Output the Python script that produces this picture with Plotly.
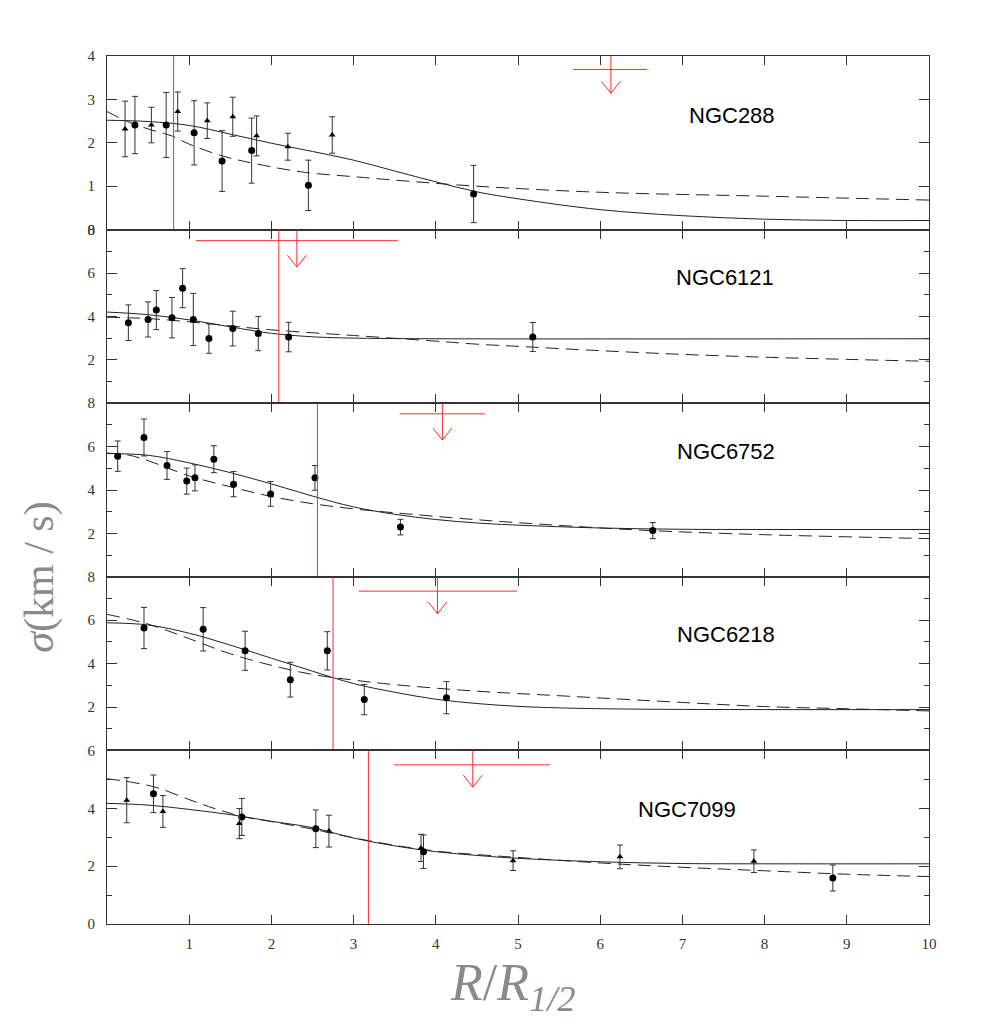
import plotly.graph_objects as go
from plotly.subplots import make_subplots

# panel names / y ranges
names = ["NGC288", "NGC6121", "NGC6752", "NGC6218", "NGC7099"]
y_top = [4, 8, 8, 8, 6]

# ---- NGC288 ----
n288_circ_x = [0.34, 0.72, 1.06, 1.40, 1.76, 2.45, 4.46]
n288_circ_y = [2.41, 2.41, 2.23, 1.58, 1.82, 1.02, 0.82]
n288_circ_e = [0.66, 0.75, 0.74, 0.70, 0.75, 0.58, 0.66]
n288_tri_x = [0.22, 0.54, 0.86, 1.22, 1.53, 1.82, 2.20, 2.74]
n288_tri_y = [2.32, 2.41, 2.72, 2.51, 2.60, 2.16, 1.91, 2.18]
n288_tri_e = [0.64, 0.41, 0.45, 0.41, 0.45, 0.46, 0.31, 0.42]
n288_fit_x = [0, 0.5, 1, 1.5, 2, 2.5, 3, 3.5, 4, 4.5, 5, 6, 7, 8, 9, 10]
n288_fit_y = [2.52, 2.49, 2.40, 2.20, 1.99, 1.80, 1.60, 1.35, 1.10, 0.87, 0.71, 0.46, 0.32, 0.24, 0.21, 0.21]
n288_dash_x = [0, 0.25, 0.5, 0.8, 1.0, 1.4, 1.8, 2.4, 3.0, 3.5, 4.5, 6, 8, 10]
n288_dash_y = [2.72, 2.49, 2.32, 2.15, 1.97, 1.70, 1.52, 1.32, 1.22, 1.14, 1.00, 0.86, 0.77, 0.68]
n288_rh = 0.81
n288_lim = [6.13, 3.69, 5.67, 6.57, 3.14]   # x, bar y, bar from, bar to, arrow tip

# ---- NGC6121 ----
n6121_circ_x = [0.26, 0.50, 0.60, 0.79, 0.92, 1.05, 1.24, 1.53, 1.84, 2.21, 5.18]
n6121_circ_y = [3.71, 3.86, 4.29, 3.94, 5.30, 3.86, 2.98, 3.44, 3.21, 3.05, 3.05]
n6121_circ_e = [0.82, 0.81, 0.90, 0.93, 0.90, 1.20, 0.68, 0.80, 0.79, 0.68, 0.67]
n6121_fit_x = [0, 0.5, 1.0, 1.5, 2.0, 2.5, 3, 4, 10]
n6121_fit_y = [4.20, 4.08, 3.84, 3.52, 3.22, 3.06, 3.00, 2.97, 2.97]
n6121_dash_x = [0, 0.5, 1.0, 1.5, 2.0, 3.0, 4.0, 4.5, 5, 6, 7, 8, 9, 10]
n6121_dash_y = [3.96, 3.90, 3.75, 3.56, 3.38, 3.12, 2.86, 2.72, 2.62, 2.42, 2.25, 2.12, 2.02, 1.93]
n6121_rh = 2.09
n6121_lim = [2.31, 7.49, 1.08, 3.54, 6.27]

# ---- NGC6752 ----
n6752_circ_x = [0.13, 0.45, 0.73, 0.97, 1.07, 1.30, 1.54, 1.99, 2.53, 3.57, 6.64]
n6752_circ_y = [5.56, 6.42, 5.13, 4.41, 4.56, 5.42, 4.27, 3.82, 4.56, 2.29, 2.13]
n6752_circ_e = [0.70, 0.85, 0.64, 0.60, 0.60, 0.62, 0.58, 0.57, 0.57, 0.36, 0.37]
n6752_fit_x = [0, 0.5, 1.0, 1.5, 2.0, 2.5, 3.0, 3.5, 4.0, 4.5, 5, 6, 7, 8, 10]
n6752_fit_y = [5.68, 5.60, 5.25, 4.80, 4.28, 3.72, 3.22, 2.88, 2.64, 2.48, 2.38, 2.25, 2.19, 2.18, 2.18]
n6752_dash_x = [0, 0.25, 0.5, 1.0, 1.5, 2.0, 2.5, 3.0, 3.5, 4.5, 5.5, 6.5, 8, 10]
n6752_dash_y = [5.70, 5.62, 5.35, 4.65, 4.15, 3.70, 3.37, 3.13, 2.95, 2.63, 2.37, 2.15, 1.94, 1.76]
n6752_rh = 2.56
n6752_lim = [4.08, 7.51, 3.56, 4.60, 6.30]

# ---- NGC6218 ----
n6218_circ_x = [0.45, 1.17, 1.68, 2.23, 2.68, 3.13, 4.13]
n6218_circ_y = [5.64, 5.58, 4.59, 3.26, 4.59, 2.34, 2.43]
n6218_circ_e = [0.95, 1.00, 0.90, 0.80, 0.88, 0.70, 0.74]
n6218_fit_x = [0, 0.5, 1.0, 1.5, 2.0, 2.5, 3.0, 3.5, 4.0, 4.5, 5, 5.5, 6.5, 10]
n6218_fit_y = [5.88, 5.78, 5.40, 4.85, 4.25, 3.65, 3.08, 2.68, 2.36, 2.16, 2.03, 1.96, 1.90, 1.88]
n6218_dash_x = [0, 0.5, 1.0, 1.5, 2.0, 2.5, 3.0, 3.5, 4.5, 5.5, 7, 8, 9, 10]
n6218_dash_y = [6.27, 5.82, 5.15, 4.45, 3.92, 3.50, 3.24, 3.03, 2.73, 2.52, 2.21, 2.02, 1.92, 1.82]
n6218_rh = 2.75
n6218_lim = [4.02, 7.34, 3.06, 4.99, 6.30]

# ---- NGC7099 ----
n7099_circ_x = [0.565, 1.64, 2.54, 3.85, 8.83]
n7099_circ_y = [4.50, 3.70, 3.29, 2.50, 1.59]
n7099_circ_e = [0.65, 0.64, 0.65, 0.58, 0.45]
n7099_tri_x = [0.24, 0.68, 1.61, 2.70, 3.82, 4.94, 6.24, 7.87]
n7099_tri_y = [4.28, 3.89, 3.47, 3.21, 2.63, 2.19, 2.32, 2.17]
n7099_tri_e = [0.78, 0.55, 0.52, 0.55, 0.47, 0.34, 0.41, 0.39]
n7099_fit_x = [0, 0.5, 1.0, 1.5, 2.0, 2.5, 3.0, 3.5, 4.0, 4.5, 5, 6, 7, 8, 10]
n7099_fit_y = [4.17, 4.11, 3.96, 3.78, 3.55, 3.33, 2.97, 2.70, 2.50, 2.37, 2.27, 2.15, 2.09, 2.08, 2.08]
n7099_dash_x = [0, 0.3, 0.6, 1.0, 1.3, 1.64, 2.0, 2.5, 3.0, 3.5, 4.0, 4.5, 5, 6, 7, 8, 9, 10]
n7099_dash_y = [5.02, 4.90, 4.72, 4.30, 4.00, 3.72, 3.54, 3.28, 2.98, 2.72, 2.52, 2.40, 2.30, 2.11, 1.96, 1.84, 1.72, 1.64]
n7099_rh = 3.18
n7099_lim = [4.45, 5.50, 3.49, 5.39, 4.73]

panels = [
    dict(circ=(n288_circ_x, n288_circ_y, n288_circ_e), tri=(n288_tri_x, n288_tri_y, n288_tri_e),
         fit=(n288_fit_x, n288_fit_y), dash=(n288_dash_x, n288_dash_y), rh=n288_rh, lim=n288_lim,
         lab=(7.6, 2.62)),
    dict(circ=(n6121_circ_x, n6121_circ_y, n6121_circ_e), tri=None,
         fit=(n6121_fit_x, n6121_fit_y), dash=(n6121_dash_x, n6121_dash_y), rh=n6121_rh, lim=n6121_lim,
         lab=(7.52, 5.77)),
    dict(circ=(n6752_circ_x, n6752_circ_y, n6752_circ_e), tri=None,
         fit=(n6752_fit_x, n6752_fit_y), dash=(n6752_dash_x, n6752_dash_y), rh=n6752_rh, lim=n6752_lim,
         lab=(7.53, 5.79)),
    dict(circ=(n6218_circ_x, n6218_circ_y, n6218_circ_e), tri=None,
         fit=(n6218_fit_x, n6218_fit_y), dash=(n6218_dash_x, n6218_dash_y), rh=n6218_rh, lim=n6218_lim,
         lab=(7.53, 5.33)),
    dict(circ=(n7099_circ_x, n7099_circ_y, n7099_circ_e), tri=(n7099_tri_x, n7099_tri_y, n7099_tri_e),
         fit=(n7099_fit_x, n7099_fit_y), dash=(n7099_dash_x, n7099_dash_y), rh=n7099_rh, lim=n7099_lim,
         lab=(7.06, 3.95)),
]

RED = "#ff2a2a"
INK = "#222222"
PANEL_PX = 173.6
X_PX = 82.2

fig = make_subplots(rows=5, cols=1, shared_xaxes=True, vertical_spacing=0)

for i, p in enumerate(panels):
    row = i + 1
    ymax = y_top[i]
    # model curves
    fig.add_trace(go.Scatter(x=p["fit"][0], y=p["fit"][1], mode="lines", line_shape="spline",
                             line=dict(color=INK, width=1)), row=row, col=1)
    fig.add_trace(go.Scatter(x=p["dash"][0], y=p["dash"][1], mode="lines", line_shape="spline",
                             line=dict(color=INK, width=1, dash="13px,7px")), row=row, col=1)
    # data points
    for key, sym, size in (("circ", "circle", 7), ("tri", "triangle-up", 6)):
        if p[key] is None:
            continue
        xs, ys, es = p[key]
        fig.add_trace(go.Scatter(
            x=xs, y=ys, mode="markers",
            marker=dict(symbol=sym, size=size, color="black"),
            error_y=dict(type="data", array=es, visible=True, thickness=1, width=3, color="#333"),
        ), row=row, col=1)
    # half-light radius line
    fig.add_trace(go.Scatter(x=[p["rh"], p["rh"]], y=[0, ymax], mode="lines",
                             line=dict(color=RED, width=1)), row=row, col=1)
    # upper limit marker
    lx, ly, lx0, lx1, tip = p["lim"]
    dx = 9.5 / X_PX
    dy = 12 * ymax / PANEL_PX
    fig.add_trace(go.Scatter(x=[lx0, lx1], y=[ly, ly], mode="lines",
                             line=dict(color=RED, width=1)), row=row, col=1)
    fig.add_trace(go.Scatter(x=[lx, lx], y=[ymax, tip], mode="lines",
                             line=dict(color=RED, width=1)), row=row, col=1)
    fig.add_trace(go.Scatter(x=[lx - dx, lx, lx + dx], y=[tip + dy, tip, tip + dy], mode="lines",
                             line=dict(color=RED, width=1)), row=row, col=1)
    # cluster name
    xr = "x" if row == 1 else f"x{row}"
    yr = "y" if row == 1 else f"y{row}"
    fig.add_annotation(x=p["lab"][0], y=p["lab"][1], xref=xr, yref=yr, text=names[i],
                       showarrow=False, font=dict(family="Liberation Sans, Arial", size=22, color="black"))

axis_common = dict(showline=True, mirror="ticks", linecolor="#333", linewidth=1, ticks="inside",
                   tickcolor="#333", tickwidth=1, showgrid=False, zeroline=False,
                   tickfont=dict(family="Liberation Serif, DejaVu Serif", size=15, color="#333"))

fig.update_xaxes(range=[0, 10], tickmode="array", tickvals=list(range(1, 11)), ticklen=9,
                 ticklabelstandoff=6, **axis_common)
for r in range(1, 5):
    fig.update_xaxes(showticklabels=False, row=r, col=1)

ytick_sets = [
    ([0, 1, 2, 3, 4], []),
    ([2, 4, 6, 8], [1, 3, 5, 7]),
    ([2, 4, 6, 8], [1, 3, 5, 7]),
    ([2, 4, 6, 8], [1, 3, 5, 7]),
    ([0, 2, 4, 6], [1, 3, 5]),
]
for i, (major, minor) in enumerate(ytick_sets):
    fig.update_yaxes(range=[0, y_top[i]], tickmode="array", tickvals=major, ticklen=10,
                     ticklabelstandoff=8,
                     minor=dict(tickmode="array", tickvals=minor, ticks="inside", ticklen=5,
                                tickcolor="#333", tickwidth=1, showgrid=False),
                     row=i + 1, col=1, **axis_common)

# axis titles
fig.add_annotation(x=-0.0815, y=0.399, xref="paper", yref="paper", textangle=-90,
                   xanchor="center", yanchor="middle",
                   text="<i>σ</i>(km / s)", showarrow=False,
                   font=dict(family="Liberation Serif, DejaVu Serif", size=42, color="#8a8a8a"))
fig.add_annotation(x=0.494, y=-0.112, xref="paper", yref="paper", xanchor="center", yanchor="bottom",
                   text="<i>R</i>/<i>R</i><sub><i>1/2</i></sub>", showarrow=False,
                   font=dict(family="Liberation Serif, DejaVu Serif", size=52, color="#8a8a8a"))

# page body adds an 8px offset, margins compensate for it
fig.update_layout(
    width=981, height=1035,
    margin=dict(l=99, r=60, t=48, b=119),
    paper_bgcolor="white", plot_bgcolor="white",
    showlegend=False,
)

fig.write_html("out.html")
